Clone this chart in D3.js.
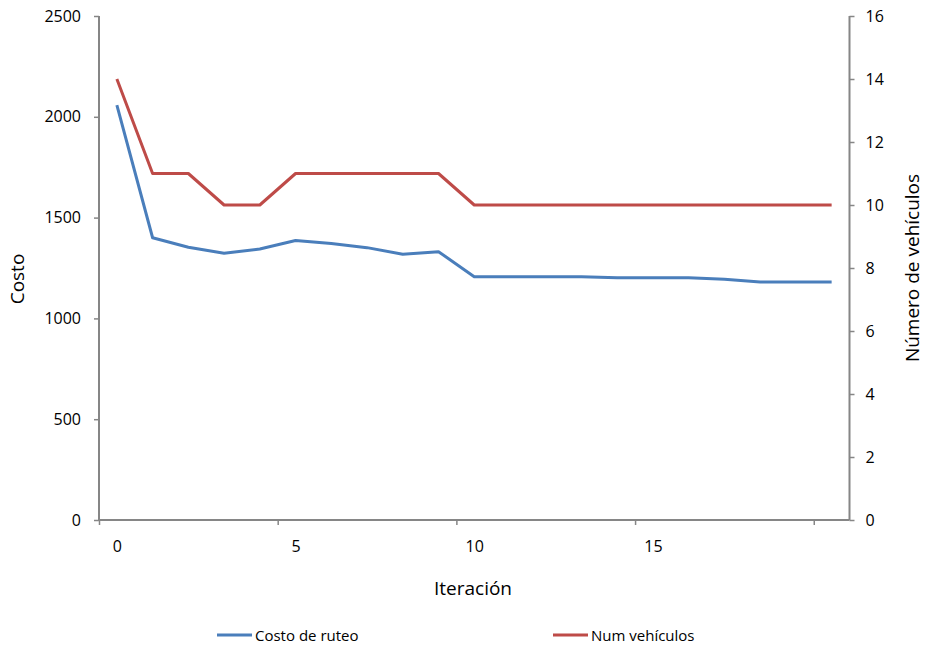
<!DOCTYPE html>
<html><head><meta charset="utf-8">
<script src="https://cdn.jsdelivr.net/npm/d3@7/dist/d3.min.js"></script>
<style>body{margin:0;background:#fff}svg{display:block}text{font-family:"Open Sans",sans-serif;fill:#000}</style>
</head><body><svg id="c" width="926" height="646"></svg>
<script>
const iterations = d3.range(0, 21);
const costo = [2058, 1400, 1353, 1323, 1344, 1386, 1372, 1351, 1318, 1331, 1207, 1207, 1207, 1207, 1202, 1202, 1202, 1194, 1180, 1180, 1180];
const vehiculos = [14, 11, 11, 10, 10, 11, 11, 11, 11, 11, 10, 10, 10, 10, 10, 10, 10, 10, 10, 10, 10];
const leftTicks = [0, 500, 1000, 1500, 2000, 2500];
const rightTicks = [0, 2, 4, 6, 8, 10, 12, 14, 16];
const xLabels = [0, 5, 10, 15];
const xTickBounds = [0, 5, 10, 15, 20];

const svg = d3.select("#c");
const L = 99, R = 849.5, T = 16, B = 520;
const axisColor = "#868686";

const xb = d3.scaleLinear().domain([0, 21]).range([L, R]);
const x = i => xb(i + 0.5);
const yL = d3.scaleLinear().domain([0, 2500]).range([B, T]);
const yR = d3.scaleLinear().domain([0, 16]).range([B, T]);

const gl = svg.append("g").attr("transform", `translate(${L},0)`)
  .call(d3.axisLeft(yL).tickValues(leftTicks).tickSize(5).tickPadding(13).tickFormat(d3.format("d")));
const gr = svg.append("g").attr("transform", `translate(${R},0)`)
  .call(d3.axisRight(yR).tickValues(rightTicks).tickSize(5).tickPadding(11).tickFormat(d3.format("d")));
const gb = svg.append("g").attr("transform", `translate(0,${B})`)
  .call(d3.axisBottom(xb).tickValues(xTickBounds).tickSize(5).tickFormat(""));
const gbl = svg.append("g").attr("transform", `translate(0,${B})`)
  .call(d3.axisBottom(xb).tickValues(xLabels.map(v => v + 0.5)).tickSize(0).tickPadding(21).tickFormat(d => d3.format("d")(d - 0.5)));
gbl.select(".domain").remove();

[gl, gr, gb].forEach(g => {
  g.select(".domain").attr("stroke", axisColor).attr("stroke-width", 2);
  g.selectAll(".tick line").attr("stroke", axisColor).attr("stroke-width", 1.5);
});
gl.select(".domain").attr("d", `M0,${T}V${B}`);
gr.select(".domain").attr("d", `M0,${T}V${B}`);
gb.select(".domain").attr("d", `M${L},0H${R}`);

svg.selectAll(".tick text").style("font-family", '"Open Sans", sans-serif').style("font-size", "16px").attr("fill", "#000");

const line = yS => d3.line().x((d, i) => x(i)).y(d => yS(d));
svg.append("path").datum(costo).attr("d", line(yL)).attr("fill", "none")
  .attr("stroke", "#4A7EBB").attr("stroke-width", 3).attr("stroke-linejoin", "round");
svg.append("path").datum(vehiculos).attr("d", line(yR)).attr("fill", "none")
  .attr("stroke", "#BE4B48").attr("stroke-width", 3).attr("stroke-linejoin", "round");

svg.append("text").attr("x", 473).attr("y", 595).attr("text-anchor", "middle").style("font-size", "19px").text("Iteración");
svg.append("text").attr("transform", "translate(24,279) rotate(-90)").attr("text-anchor", "middle").style("font-size", "19px").text("Costo");
svg.append("text").attr("transform", "translate(919,268) rotate(-90)").attr("text-anchor", "middle").style("font-size", "19px").text("Número de vehículos");

const legend = [{name: "Costo de ruteo", color: "#4A7EBB", x: 217}, {name: "Num vehículos", color: "#BE4B48", x: 553}];
const lg = svg.append("g").selectAll("g").data(legend).join("g").attr("transform", d => `translate(${d.x},635)`);
lg.append("line").attr("x1", 0).attr("x2", 35).attr("stroke", d => d.color).attr("stroke-width", 3);
lg.append("text").attr("x", 38).attr("y", 5.5).style("font-size", "15px").text(d => d.name);
</script></body></html>
